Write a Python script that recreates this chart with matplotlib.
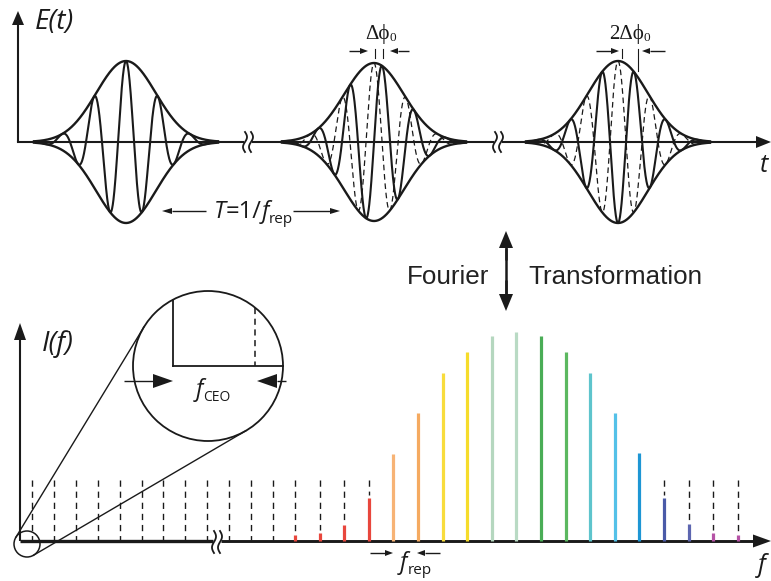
import numpy as np
import matplotlib
matplotlib.use("Agg")
import matplotlib.pyplot as plt
from matplotlib.patches import Circle, Polygon

# ---------------- data ----------------
# top panel: three successive pulses of the train (in units of T)
pulse_index = [0, 1, 2]
pulse_amplitude = [81, 79, 81]                 # envelope peak (px units)
solid_phase = [0.0, -np.pi / 2, -np.pi]        # carrier-envelope phase of each pulse
dashed_phase = [None, 0.0, 0.0]                # reference (previous) carrier
# bottom panel: comb line intensities (px units) and colours
comb_intensity = [6, 8, 16, 43, 87, 128, 168, 189, 205, 209, 205, 189, 168, 128, 88, 43, 17, 8, 6]
comb_colors = ["#e8473d", "#e8473d", "#e8473d", "#e8473d", "#f7b375", "#f5aa60",
               "#f8dc3c", "#f6dc2a", "#b5d7bf", "#b9dac4", "#4aad56", "#5cb860",
               "#5ec4cc", "#54c1e8", "#1e96d4", "#4a5aa8", "#5d66b0", "#b653a6", "#b653a6"]
n_left_dashed = 12

# ---------------- layout ----------------
W, H = 771, 581
K = "#1a1a1a"
fig = plt.figure(figsize=(W / 100, H / 100), dpi=100)
ax = fig.add_axes([0, 0, 1, 1])
ax.set_xlim(0, W)
ax.set_ylim(H, 0)
ax.axis("off")
renderer = fig.canvas.get_renderer()

SANS_I = dict(family="Open Sans", style="italic", color=K)
SANS = dict(family="Open Sans", color=K)
SERIF = dict(family="Liberation Serif", color=K)


def arrow(x0, y0, x1, y1, hl=8, hw=6, lw=1.0, color=K):
    d = np.array([x1 - x0, y1 - y0], float)
    L = np.hypot(*d)
    u = d / L
    n = np.array([-u[1], u[0]])
    base = np.array([x1, y1]) - u * hl
    ax.plot([x0, base[0]], [y0, base[1]], color=color, lw=lw, solid_capstyle="butt")
    tri = [(x1, y1), tuple(base + n * hw / 2), tuple(base - n * hw / 2)]
    ax.add_patch(Polygon(tri, closed=True, color=color, lw=0))


def squiggle(xc, yc, h=20, sep=6, lw=1.3):
    s = np.linspace(0, 1, 60)
    for dx in (-sep / 2, sep / 2):
        ax.plot(xc + dx + 2.0 * np.sin(2 * np.pi * s), yc - h / 2 + h * s, color=K, lw=lw)


def rich(x, y, parts):
    for s, kw, dy in parts:
        t = ax.text(x, y + dy, s, va="baseline", ha="left", **kw)
        x += t.get_window_extent(renderer).width


# ---------------- top panel ----------------
base_t = 142
x_axis_t = 18
first_center, spacing_T = 126, 248
period = 32
sigma = 29.7

ax.plot([x_axis_t, 243], [base_t, base_t], color=K, lw=1.5)
ax.plot([253, 493], [base_t, base_t], color=K, lw=1.5)
ax.plot([503, 757], [base_t, base_t], color=K, lw=1.5)
arrow(757, base_t, 771, base_t, hl=15, hw=12, lw=1.5)
arrow(x_axis_t, base_t, x_axis_t, 11, hl=14, hw=12, lw=1.5)
squiggle(248, base_t)
squiggle(498, base_t)

for i, A, ps, pdsh in zip(pulse_index, pulse_amplitude, solid_phase, dashed_phase):
    c = first_center + i * spacing_T + (1 if i == 2 else 0) * (-4)
    x = np.linspace(c - 92, c + 92, 800)
    env = A * np.exp(-(x - c) ** 2 / (2 * sigma ** 2))
    if pdsh is not None:
        ax.plot(x, base_t - env * np.cos(2 * np.pi * (x - c) / period + pdsh),
                color=K, lw=0.9, dashes=(4.5, 3))
    ax.plot(x, base_t - env * np.cos(2 * np.pi * (x - c) / period + ps), color=K, lw=1.5)
    ax.plot(x, base_t - env, color=K, lw=1.7)
    ax.plot(x, base_t + env, color=K, lw=1.7)

ax.text(35, 22, "E(t)", va="center", ha="left", fontsize=20, **SANS_I)
ax.text(764, 166, "t", va="center", ha="center", fontsize=18, **SANS_I)

# phase-slip markers
ax.plot([375, 375], [49, 58], color=K, lw=0.8)
ax.plot([383, 383], [49, 58], color=K, lw=0.8)
arrow(349, 51, 368, 51, hl=8, hw=6, lw=1.0)
arrow(409, 51, 390, 51, hl=8, hw=6, lw=1.0)
rich(365, 39, [("Δϕ", dict(fontsize=15, **SERIF), 0), ("0", dict(fontsize=9.5, **SERIF), 2)])

ax.plot([622, 622], [49, 58], color=K, lw=0.8)
ax.plot([638, 638], [49, 71], color=K, lw=0.8)
arrow(596, 51, 619, 51, hl=8, hw=6, lw=1.0)
arrow(665, 51, 642, 51, hl=8, hw=6, lw=1.0)
rich(609, 39, [("2Δϕ", dict(fontsize=15, **SERIF), 0), ("0", dict(fontsize=9.5, **SERIF), 2)])

# period annotation
arrow(206, 211, 162, 211, hl=10, hw=6, lw=1.0)
arrow(293, 211, 340, 211, hl=10, hw=6, lw=1.0)
rich(214, 218, [("T", dict(fontsize=17, **SANS_I), 0), ("=1/", dict(fontsize=17, **SANS), 0),
                ("f", dict(fontsize=17, **SANS_I), 0), ("rep", dict(fontsize=11, **SANS), 5)])

# Fourier transformation
x_ft = 506
ax.plot([x_ft, x_ft], [245, 298], color=K, lw=1.8)
arrow(x_ft, 260, x_ft, 231, hl=17, hw=14, lw=1.8)
arrow(x_ft, 280, x_ft, 311, hl=17, hw=14, lw=1.8)
FT = dict(family="Liberation Sans", fontsize=18.7, color="#222222")
ax.text(407, 284, "Fourier", va="baseline", ha="left", **FT)
ax.text(528, 284, "Transformation", va="baseline", ha="left", **FT)

# ---------------- bottom panel ----------------
base_f = 541
x_axis_f = 20
comb_start, comb_step = 295, 24.6
left_start, left_step = 32, 21.9
dash_top = 480

ax.plot([x_axis_f, 213], [base_f, base_f], color=K, lw=2.4, solid_capstyle="butt")
ax.plot([221, 753], [base_f, base_f], color=K, lw=2.1, solid_capstyle="butt")
arrow(753, base_f, 771, base_f, hl=18, hw=13, lw=2.1)
arrow(x_axis_f, base_f, x_axis_f, 323, hl=17, hw=12, lw=1.5)
squiggle(217, base_f + 1, h=22, sep=6)

for k in range(n_left_dashed):
    xk = left_start + k * left_step
    ax.plot([xk, xk], [dash_top, base_f - 1], color=K, lw=1.0, dashes=(4.5, 3.5))

for k, (I, col) in enumerate(zip(comb_intensity, comb_colors)):
    xk = comb_start + k * comb_step
    ax.plot([xk, xk], [base_f, base_f - I], color=col, lw=2.3, solid_capstyle="butt")
    if base_f - I > dash_top + 6:
        ax.plot([xk, xk], [dash_top, base_f - I - 3], color=K, lw=1.0, dashes=(4.5, 3.5))

ax.text(42, 344, "I(f)", va="center", ha="left", fontsize=20, **SANS_I)
ax.text(762, 565, "f", va="center", ha="center", fontsize=18, **SANS_I)

# f_rep marker
arrow(370, 553, 393, 553, hl=8, hw=6, lw=1.0)
arrow(440, 553, 417, 553, hl=8, hw=6, lw=1.0)
rich(400, 569, [("f", dict(fontsize=17, **SANS_I), 0), ("rep", dict(fontsize=11, **SANS), 5)])

# magnifier
c1, r1 = np.array([27.0, 544.0]), 13.0
c2, r2 = np.array([208.0, 366.0]), 75.0
ax.add_patch(Circle(c1, r1, fill=False, color=K, lw=1.1))
ax.add_patch(Circle(c2, r2, fill=False, color=K, lw=1.3))
d = c2 - c1
D = np.hypot(*d)
th = np.arctan2(d[1], d[0])
al = np.arccos((r2 - r1) / D)
for sgn in (1, -1):
    n = np.array([np.cos(th + sgn * al), np.sin(th + sgn * al)])
    p1 = c1 - r1 * n
    p2 = c2 - r2 * n
    ax.plot([p1[0], p2[0]], [p1[1], p2[1]], color=K, lw=1.0)

y_in = 366
xa, xb = 173, 255
ax.plot([xa, xa], [c2[1] - np.sqrt(r2 ** 2 - (xa - c2[0]) ** 2), y_in], color=K, lw=1.3)
ax.plot([xa, c2[0] + r2], [y_in, y_in], color=K, lw=1.3)
ax.plot([xb, xb], [c2[1] - np.sqrt(r2 ** 2 - (xb - c2[0]) ** 2), y_in], color=K, lw=1.1,
        dashes=(4, 3))
arrow(124, 381, 173, 381, hl=20, hw=14, lw=1.0)
arrow(286, 381, 257, 381, hl=20, hw=14, lw=1.0)
rich(196, 396, [("f", dict(fontsize=17, **SANS_I), 0), ("CEO", dict(fontsize=10, **SANS), 5)])

fig.savefig("out.png", dpi=100)
